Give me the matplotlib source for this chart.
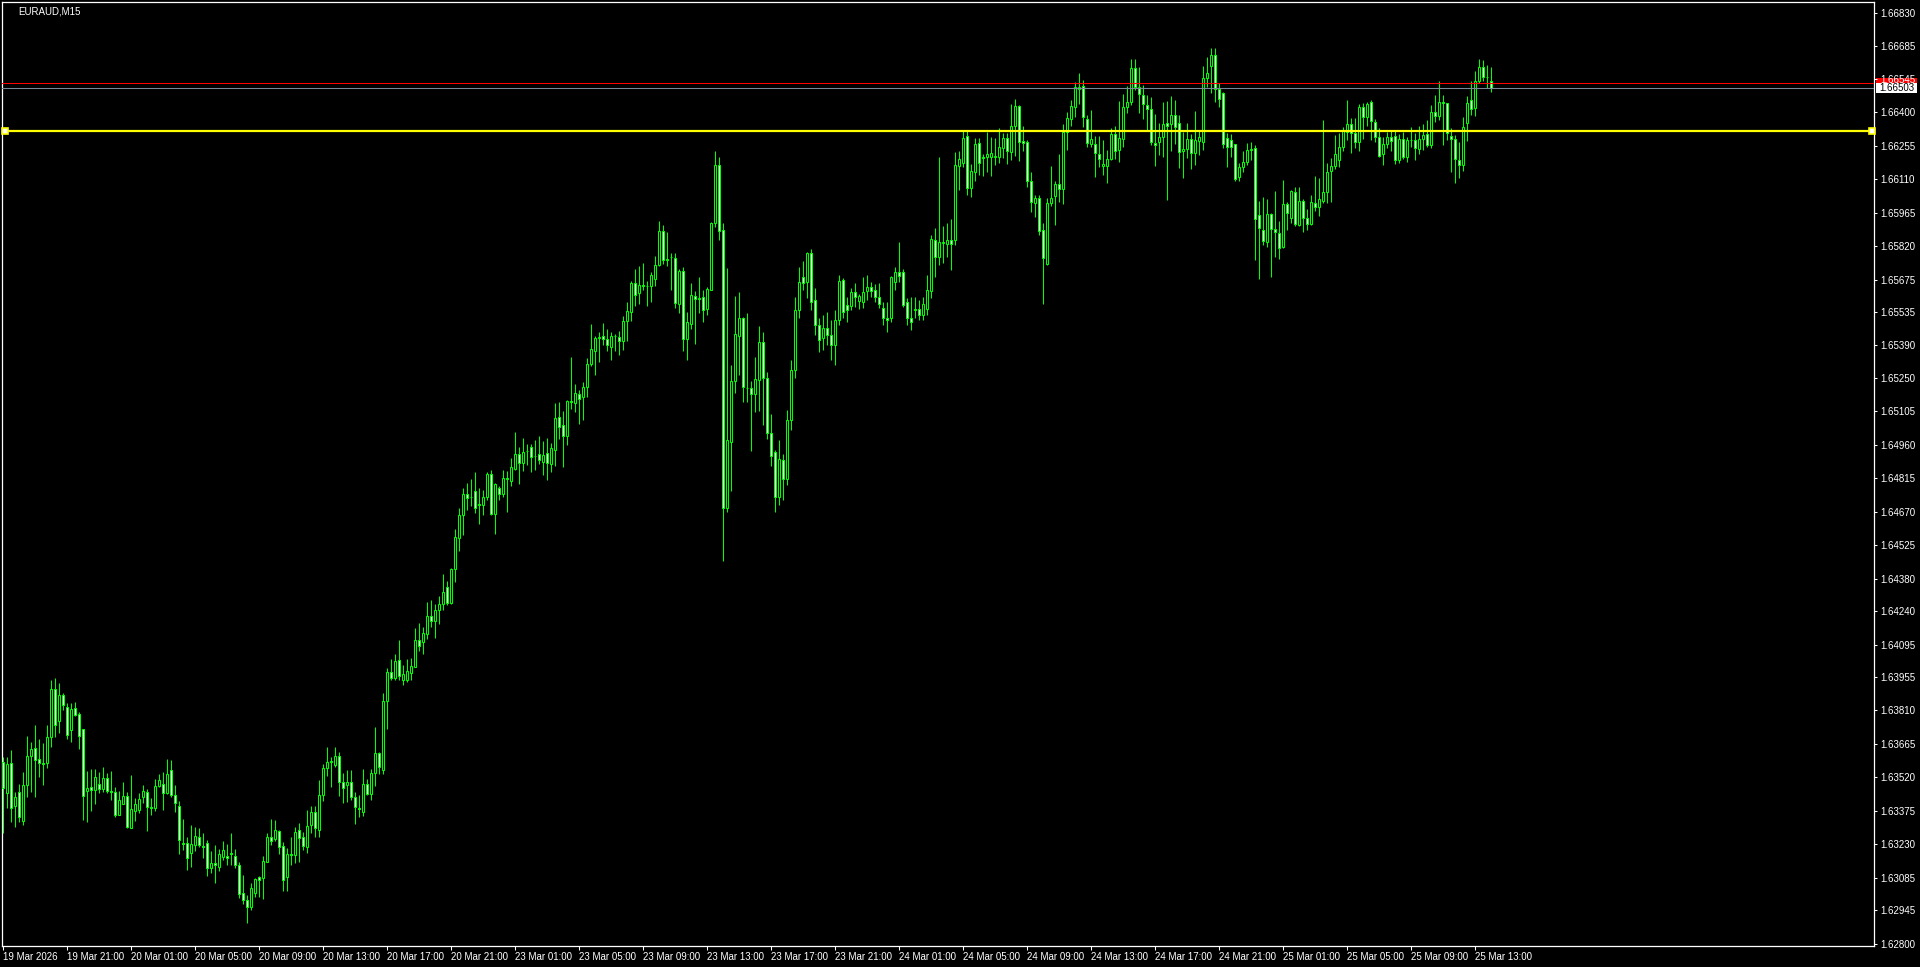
import numpy as np
import matplotlib
matplotlib.use('Agg')
import matplotlib.pyplot as plt
import matplotlib.transforms as mtransforms
from matplotlib.patches import Rectangle

symbol = "EURAUD,M15"

# M15 bars, 19 Mar 17:00 -> 25 Mar 14:00
opens = [
    1.63588, 1.63451, 1.63581, 1.63397, 1.63455, 1.63332, 1.63485, 1.63614, 1.63646, 1.63598,
    1.63581, 1.63581, 1.63693, 1.63901, 1.63765, 1.63875, 1.63823, 1.63726, 1.63819, 1.63793,
    1.63728, 1.63459, 1.63477, 1.63465, 1.63493, 1.63471, 1.63516, 1.63461, 1.63455, 1.63358,
    1.63403, 1.63438, 1.63299, 1.63376, 1.63379, 1.63433, 1.63457, 1.63393, 1.63386, 1.63484,
    1.63491, 1.63451, 1.63552, 1.63442, 1.63396, 1.63236, 1.63236, 1.63191, 1.63227, 1.63262,
    1.63223, 1.63236, 1.63129, 1.63149, 1.63133, 1.63174, 1.63180, 1.63191, 1.63180, 1.63141,
    1.63019, 1.62988, 1.62957, 1.63021, 1.63089, 1.63086, 1.63155, 1.63260, 1.63252, 1.63286,
    1.63221, 1.63090, 1.63187, 1.63184, 1.63294, 1.63260, 1.63220, 1.63312, 1.63369, 1.63294,
    1.63445, 1.63559, 1.63586, 1.63572, 1.63611, 1.63498, 1.63488, 1.63498, 1.63433, 1.63389,
    1.63371, 1.63490, 1.63446, 1.63537, 1.63627, 1.63552, 1.63852, 1.63976, 1.63950, 1.64029,
    1.63940, 1.63942, 1.63974, 1.64000, 1.64115, 1.64104, 1.64141, 1.64219, 1.64195, 1.64245,
    1.64270, 1.64343, 1.64274, 1.64423, 1.64558, 1.64657, 1.64748, 1.64736, 1.64758, 1.64703,
    1.64700, 1.64733, 1.64833, 1.64660, 1.64775, 1.64749, 1.64815, 1.64805, 1.64856, 1.64919,
    1.64880, 1.64932, 1.64950, 1.64912, 1.64919, 1.64887, 1.64924, 1.64875, 1.64938, 1.65079,
    1.65045, 1.64996, 1.65149, 1.65143, 1.65179, 1.65165, 1.65208, 1.65309, 1.65368, 1.65421,
    1.65429, 1.65417, 1.65385, 1.65429, 1.65426, 1.65411, 1.65494, 1.65534, 1.65660, 1.65616,
    1.65652, 1.65649, 1.65649, 1.65677, 1.65737, 1.65885, 1.65766, 1.65772, 1.65768, 1.65571,
    1.65711, 1.65420, 1.65485, 1.65602, 1.65595, 1.65599, 1.65548, 1.65632, 1.65922, 1.66170,
    1.65890, 1.64688, 1.64974, 1.65234, 1.65433, 1.65509, 1.65206, 1.65205, 1.65178, 1.65242,
    1.65404, 1.65247, 1.65010, 1.64929, 1.64736, 1.64895, 1.64811, 1.65067, 1.65284, 1.65544,
    1.65685, 1.65665, 1.65789, 1.65587, 1.65479, 1.65422, 1.65466, 1.65435, 1.65392, 1.65500,
    1.65674, 1.65565, 1.65562, 1.65622, 1.65581, 1.65577, 1.65627, 1.65643, 1.65630, 1.65601,
    1.65552, 1.65509, 1.65509, 1.65666, 1.65708, 1.65708, 1.65577, 1.65509, 1.65547, 1.65547,
    1.65522, 1.65547, 1.65627, 1.65845, 1.65774, 1.65832, 1.65829, 1.65845, 1.65848, 1.66168,
    1.66182, 1.66298, 1.66070, 1.66140, 1.66266, 1.66208, 1.66204, 1.66204, 1.66208, 1.66205,
    1.66247, 1.66288, 1.66227, 1.66342, 1.66426, 1.66277, 1.66270, 1.66103, 1.66006, 1.66028,
    1.65891, 1.65741, 1.66006, 1.66039, 1.66090, 1.66067, 1.66316, 1.66370, 1.66424, 1.66499,
    1.66515, 1.66370, 1.66261, 1.66261, 1.66218, 1.66165, 1.66165, 1.66196, 1.66306, 1.66237,
    1.66283, 1.66424, 1.66446, 1.66590, 1.66511, 1.66475, 1.66432, 1.66413, 1.66267, 1.66273,
    1.66292, 1.66352, 1.66348, 1.66387, 1.66352, 1.66230, 1.66240, 1.66284, 1.66222, 1.66274,
    1.66271, 1.66547, 1.66600, 1.66648, 1.66499, 1.66482, 1.66287, 1.66280, 1.66261, 1.66118,
    1.66162, 1.66183, 1.66237, 1.66244, 1.65953, 1.65889, 1.65840, 1.65958, 1.65896, 1.65876,
    1.65815, 1.66002, 1.65941, 1.66053, 1.65911, 1.66015, 1.65941, 1.65915, 1.66006, 1.65991,
    1.66017, 1.66053, 1.66144, 1.66165, 1.66193, 1.66248, 1.66313, 1.66348, 1.66309, 1.66270,
    1.66421, 1.66377, 1.66443, 1.66357, 1.66292, 1.66219, 1.66261, 1.66292, 1.66295, 1.66191,
    1.66284, 1.66204, 1.66280, 1.66280, 1.66240, 1.66283, 1.66305, 1.66257, 1.66400, 1.66385,
    1.66442, 1.66439, 1.66295, 1.66283, 1.66193, 1.66173, 1.66352, 1.66453, 1.66417, 1.66533,
    1.66595, 1.66554, 1.66537,
]
highs = [
    1.63610, 1.63610, 1.63638, 1.63458, 1.63491, 1.63542, 1.63699, 1.63672, 1.63747, 1.63686,
    1.63667, 1.63747, 1.63941, 1.63949, 1.63930, 1.63884, 1.63843, 1.63843, 1.63846, 1.63804,
    1.63728, 1.63549, 1.63556, 1.63556, 1.63543, 1.63565, 1.63537, 1.63547, 1.63480, 1.63462,
    1.63500, 1.63458, 1.63530, 1.63429, 1.63451, 1.63485, 1.63468, 1.63429, 1.63511, 1.63534,
    1.63543, 1.63599, 1.63595, 1.63487, 1.63419, 1.63340, 1.63263, 1.63314, 1.63306, 1.63299,
    1.63281, 1.63249, 1.63201, 1.63226, 1.63210, 1.63244, 1.63231, 1.63279, 1.63208, 1.63155,
    1.63097, 1.63011, 1.63064, 1.63083, 1.63093, 1.63180, 1.63281, 1.63338, 1.63335, 1.63292,
    1.63240, 1.63213, 1.63263, 1.63306, 1.63324, 1.63282, 1.63379, 1.63397, 1.63397, 1.63509,
    1.63578, 1.63650, 1.63607, 1.63650, 1.63631, 1.63537, 1.63552, 1.63552, 1.63458, 1.63444,
    1.63556, 1.63511, 1.63556, 1.63738, 1.63631, 1.63885, 1.63995, 1.64033, 1.64055, 1.64115,
    1.64007, 1.64033, 1.64036, 1.64166, 1.64188, 1.64170, 1.64280, 1.64289, 1.64271, 1.64306,
    1.64401, 1.64371, 1.64426, 1.64596, 1.64687, 1.64773, 1.64794, 1.64811, 1.64843, 1.64773,
    1.64765, 1.64843, 1.64851, 1.64794, 1.64782, 1.64851, 1.64847, 1.64902, 1.65016, 1.64951,
    1.64990, 1.64964, 1.64964, 1.64981, 1.64999, 1.64977, 1.64990, 1.64967, 1.65140, 1.65146,
    1.65107, 1.65152, 1.65341, 1.65224, 1.65198, 1.65232, 1.65335, 1.65484, 1.65432, 1.65449,
    1.65488, 1.65460, 1.65449, 1.65440, 1.65453, 1.65518, 1.65579, 1.65670, 1.65722, 1.65732,
    1.65747, 1.65670, 1.65709, 1.65778, 1.65929, 1.65912, 1.65882, 1.65792, 1.65792, 1.65722,
    1.65730, 1.65535, 1.65661, 1.65625, 1.65687, 1.65631, 1.65645, 1.65925, 1.66232, 1.66206,
    1.65919, 1.65726, 1.65306, 1.65605, 1.65622, 1.65515, 1.65532, 1.65237, 1.65341, 1.65475,
    1.65449, 1.65276, 1.65094, 1.64938, 1.64981, 1.64921, 1.65111, 1.65327, 1.65601, 1.65731,
    1.65757, 1.65796, 1.65808, 1.65640, 1.65509, 1.65522, 1.65535, 1.65500, 1.65544, 1.65695,
    1.65682, 1.65601, 1.65639, 1.65661, 1.65613, 1.65687, 1.65695, 1.65665, 1.65656, 1.65661,
    1.65580, 1.65580, 1.65691, 1.65730, 1.65838, 1.65721, 1.65596, 1.65600, 1.65601, 1.65587,
    1.65601, 1.65695, 1.65868, 1.65899, 1.66206, 1.65909, 1.65922, 1.65938, 1.66228, 1.66230,
    1.66319, 1.66319, 1.66175, 1.66288, 1.66288, 1.66221, 1.66316, 1.66292, 1.66288, 1.66331,
    1.66309, 1.66309, 1.66436, 1.66458, 1.66432, 1.66338, 1.66280, 1.66140, 1.66041, 1.66042,
    1.65922, 1.66028, 1.66168, 1.66100, 1.66220, 1.66350, 1.66402, 1.66454, 1.66530, 1.66569,
    1.66540, 1.66388, 1.66410, 1.66295, 1.66297, 1.66280, 1.66237, 1.66331, 1.66341, 1.66449,
    1.66479, 1.66514, 1.66631, 1.66631, 1.66595, 1.66518, 1.66475, 1.66465, 1.66393, 1.66352,
    1.66446, 1.66449, 1.66468, 1.66453, 1.66388, 1.66316, 1.66352, 1.66306, 1.66403, 1.66323,
    1.66600, 1.66638, 1.66677, 1.66678, 1.66525, 1.66489, 1.66309, 1.66306, 1.66261, 1.66179,
    1.66230, 1.66266, 1.66269, 1.66257, 1.66015, 1.66032, 1.66023, 1.65963, 1.66059, 1.65927,
    1.66107, 1.66010, 1.66064, 1.66074, 1.66077, 1.66025, 1.65980, 1.66042, 1.66124, 1.66116,
    1.66364, 1.66182, 1.66201, 1.66300, 1.66309, 1.66335, 1.66453, 1.66374, 1.66374, 1.66436,
    1.66439, 1.66446, 1.66453, 1.66371, 1.66332, 1.66292, 1.66316, 1.66320, 1.66323, 1.66306,
    1.66316, 1.66292, 1.66335, 1.66312, 1.66341, 1.66349, 1.66367, 1.66432, 1.66475, 1.66533,
    1.66475, 1.66439, 1.66331, 1.66300, 1.66271, 1.66378, 1.66471, 1.66536, 1.66579, 1.66631,
    1.66626, 1.66605, 1.66595,
]
lows = [
    1.63278, 1.63386, 1.63328, 1.63304, 1.63328, 1.63315, 1.63436, 1.63458, 1.63436, 1.63523,
    1.63487, 1.63562, 1.63653, 1.63696, 1.63713, 1.63812, 1.63687, 1.63674, 1.63786, 1.63641,
    1.63335, 1.63328, 1.63376, 1.63406, 1.63451, 1.63458, 1.63454, 1.63422, 1.63350, 1.63356,
    1.63403, 1.63299, 1.63299, 1.63332, 1.63364, 1.63410, 1.63289, 1.63357, 1.63376, 1.63480,
    1.63379, 1.63446, 1.63436, 1.63370, 1.63188, 1.63207, 1.63119, 1.63130, 1.63201, 1.63220,
    1.63172, 1.63093, 1.63107, 1.63064, 1.63116, 1.63162, 1.63141, 1.63141, 1.63126, 1.62999,
    1.62973, 1.62891, 1.62947, 1.63002, 1.63003, 1.62995, 1.63154, 1.63226, 1.63244, 1.63188,
    1.63029, 1.63029, 1.63142, 1.63151, 1.63155, 1.63205, 1.63194, 1.63281, 1.63260, 1.63263,
    1.63419, 1.63527, 1.63480, 1.63566, 1.63441, 1.63410, 1.63412, 1.63422, 1.63319, 1.63350,
    1.63354, 1.63444, 1.63422, 1.63483, 1.63534, 1.63534, 1.63729, 1.63942, 1.63942, 1.63942,
    1.63921, 1.63935, 1.63942, 1.63997, 1.64069, 1.64055, 1.64120, 1.64173, 1.64124, 1.64185,
    1.64245, 1.64267, 1.64271, 1.64364, 1.64498, 1.64570, 1.64678, 1.64696, 1.64664, 1.64618,
    1.64655, 1.64719, 1.64657, 1.64574, 1.64722, 1.64736, 1.64670, 1.64782, 1.64851, 1.64791,
    1.64847, 1.64872, 1.64840, 1.64849, 1.64877, 1.64830, 1.64808, 1.64844, 1.64866, 1.64984,
    1.64862, 1.64960, 1.65114, 1.65100, 1.65052, 1.65068, 1.65169, 1.65299, 1.65263, 1.65320,
    1.65394, 1.65364, 1.65328, 1.65364, 1.65349, 1.65371, 1.65410, 1.65496, 1.65561, 1.65570,
    1.65631, 1.65561, 1.65579, 1.65648, 1.65735, 1.65743, 1.65735, 1.65631, 1.65553, 1.65530,
    1.65367, 1.65328, 1.65460, 1.65397, 1.65531, 1.65492, 1.65522, 1.65631, 1.65902, 1.65847,
    1.64457, 1.64671, 1.64758, 1.65186, 1.65260, 1.65147, 1.65147, 1.64931, 1.65104, 1.65108,
    1.65046, 1.64986, 1.64869, 1.64667, 1.64700, 1.64719, 1.64786, 1.65024, 1.65249, 1.65509,
    1.65630, 1.65597, 1.65544, 1.65435, 1.65362, 1.65370, 1.65392, 1.65327, 1.65306, 1.65479,
    1.65509, 1.65492, 1.65544, 1.65558, 1.65547, 1.65552, 1.65587, 1.65601, 1.65580, 1.65552,
    1.65479, 1.65448, 1.65492, 1.65630, 1.65666, 1.65558, 1.65479, 1.65457, 1.65509, 1.65500,
    1.65500, 1.65522, 1.65597, 1.65688, 1.65738, 1.65748, 1.65774, 1.65717, 1.65826, 1.66064,
    1.66161, 1.66042, 1.66031, 1.66100, 1.66129, 1.66125, 1.66143, 1.66125, 1.66172, 1.66179,
    1.66201, 1.66176, 1.66194, 1.66211, 1.66187, 1.66230, 1.66078, 1.65967, 1.65946, 1.65869,
    1.65570, 1.65739, 1.65992, 1.65910, 1.66009, 1.66003, 1.66237, 1.66338, 1.66381, 1.66436,
    1.66335, 1.66248, 1.66251, 1.66121, 1.66162, 1.66130, 1.66092, 1.66193, 1.66198, 1.66186,
    1.66251, 1.66395, 1.66429, 1.66496, 1.66398, 1.66371, 1.66323, 1.66258, 1.66169, 1.66215,
    1.66208, 1.66020, 1.66230, 1.66261, 1.66160, 1.66117, 1.66201, 1.66156, 1.66172, 1.66215,
    1.66237, 1.66511, 1.66485, 1.66442, 1.66424, 1.66243, 1.66162, 1.66208, 1.66104, 1.66103,
    1.66143, 1.66172, 1.66193, 1.65761, 1.65677, 1.65826, 1.65818, 1.65686, 1.65775, 1.65765,
    1.65811, 1.65890, 1.65922, 1.65909, 1.65908, 1.65883, 1.65890, 1.65912, 1.65974, 1.65951,
    1.66006, 1.66006, 1.66013, 1.66155, 1.66162, 1.66230, 1.66280, 1.66225, 1.66244, 1.66230,
    1.66283, 1.66342, 1.66280, 1.66273, 1.66205, 1.66173, 1.66244, 1.66230, 1.66175, 1.66182,
    1.66196, 1.66186, 1.66248, 1.66193, 1.66219, 1.66237, 1.66248, 1.66247, 1.66359, 1.66367,
    1.66258, 1.66280, 1.66143, 1.66095, 1.66117, 1.66147, 1.66276, 1.66388, 1.66384, 1.66525,
    1.66533, 1.66504, 1.66489,
]
closes = [
    1.63472, 1.63578, 1.63386, 1.63433, 1.63350, 1.63485, 1.63614, 1.63641, 1.63595, 1.63581,
    1.63576, 1.63693, 1.63901, 1.63745, 1.63875, 1.63835, 1.63702, 1.63814, 1.63788, 1.63698,
    1.63438, 1.63472, 1.63464, 1.63520, 1.63471, 1.63516, 1.63461, 1.63455, 1.63358, 1.63422,
    1.63438, 1.63304, 1.63383, 1.63405, 1.63425, 1.63461, 1.63393, 1.63386, 1.63481, 1.63509,
    1.63451, 1.63534, 1.63442, 1.63410, 1.63249, 1.63233, 1.63172, 1.63231, 1.63266, 1.63226,
    1.63217, 1.63129, 1.63148, 1.63142, 1.63187, 1.63204, 1.63169, 1.63190, 1.63142, 1.63016,
    1.62988, 1.62960, 1.63040, 1.63080, 1.63077, 1.63156, 1.63260, 1.63244, 1.63291, 1.63217,
    1.63074, 1.63187, 1.63182, 1.63282, 1.63256, 1.63223, 1.63308, 1.63370, 1.63299, 1.63444,
    1.63559, 1.63585, 1.63591, 1.63611, 1.63498, 1.63472, 1.63498, 1.63433, 1.63390, 1.63382,
    1.63490, 1.63446, 1.63537, 1.63624, 1.63563, 1.63849, 1.63975, 1.63950, 1.64025, 1.63960,
    1.63968, 1.63981, 1.64003, 1.64115, 1.64087, 1.64144, 1.64219, 1.64199, 1.64245, 1.64271,
    1.64322, 1.64274, 1.64423, 1.64561, 1.64657, 1.64748, 1.64730, 1.64733, 1.64685, 1.64698,
    1.64733, 1.64833, 1.64661, 1.64789, 1.64748, 1.64815, 1.64811, 1.64864, 1.64919, 1.64880,
    1.64928, 1.64931, 1.64906, 1.64912, 1.64892, 1.64915, 1.64880, 1.64945, 1.65075, 1.65036,
    1.64996, 1.65149, 1.65147, 1.65183, 1.65160, 1.65209, 1.65309, 1.65374, 1.65421, 1.65426,
    1.65419, 1.65394, 1.65429, 1.65429, 1.65411, 1.65494, 1.65538, 1.65660, 1.65608, 1.65652,
    1.65648, 1.65649, 1.65694, 1.65737, 1.65885, 1.65758, 1.65760, 1.65771, 1.65574, 1.65713,
    1.65420, 1.65492, 1.65609, 1.65590, 1.65592, 1.65545, 1.65634, 1.65919, 1.66170, 1.65887,
    1.64688, 1.64981, 1.65237, 1.65439, 1.65509, 1.65208, 1.65205, 1.65178, 1.65245, 1.65404,
    1.65251, 1.65013, 1.64913, 1.64736, 1.64898, 1.64811, 1.65067, 1.65284, 1.65544, 1.65665,
    1.65661, 1.65790, 1.65577, 1.65479, 1.65414, 1.65466, 1.65435, 1.65392, 1.65500, 1.65669,
    1.65535, 1.65544, 1.65622, 1.65601, 1.65604, 1.65623, 1.65643, 1.65627, 1.65601, 1.65570,
    1.65509, 1.65500, 1.65687, 1.65708, 1.65692, 1.65565, 1.65509, 1.65492, 1.65544, 1.65522,
    1.65568, 1.65630, 1.65850, 1.65774, 1.65837, 1.65839, 1.65845, 1.65829, 1.66171, 1.66197,
    1.66288, 1.66070, 1.66145, 1.66262, 1.66179, 1.66200, 1.66217, 1.66223, 1.66211, 1.66249,
    1.66288, 1.66230, 1.66342, 1.66426, 1.66273, 1.66266, 1.66100, 1.66009, 1.66028, 1.65884,
    1.65768, 1.66006, 1.66029, 1.66090, 1.66067, 1.66316, 1.66374, 1.66425, 1.66511, 1.66511,
    1.66381, 1.66266, 1.66283, 1.66222, 1.66199, 1.66175, 1.66196, 1.66305, 1.66232, 1.66287,
    1.66424, 1.66443, 1.66590, 1.66511, 1.66478, 1.66434, 1.66413, 1.66269, 1.66257, 1.66292,
    1.66348, 1.66338, 1.66387, 1.66335, 1.66227, 1.66240, 1.66284, 1.66222, 1.66280, 1.66292,
    1.66547, 1.66569, 1.66648, 1.66499, 1.66458, 1.66261, 1.66251, 1.66248, 1.66110, 1.66162,
    1.66183, 1.66235, 1.66240, 1.65937, 1.65898, 1.65844, 1.65958, 1.65896, 1.65880, 1.65811,
    1.66002, 1.65963, 1.66059, 1.65916, 1.66015, 1.65941, 1.65918, 1.66010, 1.65991, 1.66023,
    1.66053, 1.66142, 1.66165, 1.66218, 1.66248, 1.66323, 1.66348, 1.66312, 1.66270, 1.66421,
    1.66378, 1.66436, 1.66362, 1.66292, 1.66212, 1.66261, 1.66292, 1.66277, 1.66191, 1.66284,
    1.66204, 1.66280, 1.66280, 1.66244, 1.66283, 1.66303, 1.66257, 1.66400, 1.66385, 1.66443,
    1.66440, 1.66309, 1.66284, 1.66196, 1.66173, 1.66335, 1.66439, 1.66413, 1.66533, 1.66595,
    1.66551, 1.66554, 1.66503,
]

time_labels = [
    "19 Mar 2026", "19 Mar 21:00", "20 Mar 01:00", "20 Mar 05:00", "20 Mar 09:00",
    "20 Mar 13:00", "20 Mar 17:00", "20 Mar 21:00", "23 Mar 01:00", "23 Mar 05:00",
    "23 Mar 09:00", "23 Mar 13:00", "23 Mar 17:00", "23 Mar 21:00", "24 Mar 01:00",
    "24 Mar 05:00", "24 Mar 09:00", "24 Mar 13:00", "24 Mar 17:00", "24 Mar 21:00",
    "25 Mar 01:00", "25 Mar 05:00", "25 Mar 09:00", "25 Mar 13:00",
]
bars_per_label = 16

price_labels = [
    "1.62800", "1.62945", "1.63085", "1.63230", "1.63375", "1.63520", "1.63665", "1.63810",
    "1.63955", "1.64095", "1.64240", "1.64380", "1.64525", "1.64670", "1.64815", "1.64960",
    "1.65105", "1.65250", "1.65390", "1.65535", "1.65675", "1.65820", "1.65965", "1.66110",
    "1.66255", "1.66400", "1.66545", "1.66685", "1.66830",
]

bid = 1.66503
ask = 1.66527
level = 1.66319

LIME = '#00FF00'
plt.rcParams['font.family'] = ['Liberation Sans', 'DejaVu Sans']

o = np.array(opens)
h = np.array(highs)
l = np.array(lows)
c = np.array(closes)
x = np.arange(len(o))

fig = plt.figure(figsize=(19.2, 9.67), dpi=100, facecolor='black')
ax = fig.add_axes([2 / 1920, 21 / 967, 1872 / 1920, 944 / 967], facecolor='black')

# candles
ax.vlines(x, l, h, colors=LIME, linewidth=0.75, zorder=2)
up = c >= o
bottom = np.minimum(o, c)
height = np.abs(c - o)
ax.bar(x[up], height[up], bottom=bottom[up], width=0.5, color='black',
       edgecolor=LIME, linewidth=0.75, zorder=3)
ax.bar(x[~up], height[~up], bottom=bottom[~up], width=0.5, color='white',
       edgecolor=LIME, linewidth=0.75, zorder=3)

ax.set_xlim(-0.25, 467.75)
ax.set_ylim(1.62790, 1.66877)

# price lines
ax.axhline(ask, color='#FF0000', linewidth=0.75, zorder=4)
ax.axhline(bid, color='#778899', linewidth=0.75, zorder=4)
ax.plot([0.5, 467.25], [level, level], color='#FFFF00', linewidth=1.6,
        marker='s', markersize=4, markerfacecolor='white', markeredgecolor='#FFFF00',
        markeredgewidth=1.2, zorder=5, clip_on=False)

# frame
for sp in ax.spines.values():
    sp.set_color('white')
    sp.set_linewidth(0.9)

ax.yaxis.tick_right()
ax.set_yticks([float(s) for s in price_labels])
ax.set_yticklabels(price_labels)
ax.set_xticks(np.arange(len(time_labels)) * bars_per_label)
ax.set_xticklabels(time_labels)
for t in ax.get_xticklabels():
    t.set_horizontalalignment('left')
ax.tick_params(axis='y', colors='white', labelcolor='white', length=2.5, width=0.75,
               pad=2, labelsize=7, direction='out')
ax.tick_params(axis='x', colors='white', labelcolor='white', length=3, width=0.75,
               pad=1.5, labelsize=7, direction='out')

# price tags on the right: red ask tag sits under the axis labels,
# white bid tag covers the lower half of the nearby tick label
trans = mtransforms.blended_transform_factory(ax.transAxes, ax.transData)
tag_w = 41 / 1872
tag_h = 0.000433
x0 = 1.0011
ax.add_patch(Rectangle((x0, ask - tag_h / 2), tag_w, tag_h, transform=trans,
                       facecolor='#FF0000', edgecolor='none', clip_on=False, zorder=1))
ax.add_patch(Rectangle((x0, bid - tag_h / 2), tag_w, tag_h, transform=trans,
                       facecolor='white', edgecolor='none', clip_on=False, zorder=12))
ax.text(x0 + tag_w / 2, bid, f"{bid:.5f}", transform=trans, ha='center', va='center',
        fontsize=7, color='black', clip_on=False, zorder=13)

fig.text(18 / 1920, 1 - 11 / 967, symbol, color='white', fontsize=7, ha='left', va='center')

fig.savefig('out.png', dpi=100, facecolor='black')
